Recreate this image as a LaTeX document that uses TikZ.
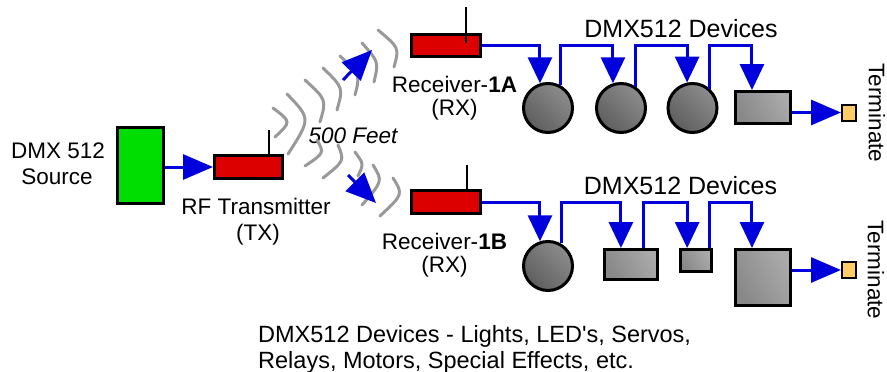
\documentclass[tikz,border=0pt]{standalone}
\usepackage{fontspec}
\setmainfont{Liberation Sans}
\usetikzlibrary{arrows.meta,calc}
\definecolor{dmxgreen}{HTML}{00DD00}
\definecolor{dmxred}{HTML}{DD0000}
\definecolor{dmxblue}{HTML}{0000DD}
\definecolor{wavegray}{HTML}{999999}
\definecolor{termfill}{HTML}{FFCC66}
\definecolor{circdark}{HTML}{5E5E5E}
\definecolor{circlight}{HTML}{8C8C8C}
\definecolor{boxdark}{HTML}{888888}
\definecolor{boxlight}{HTML}{AAAAAA}
\begin{document}
\begin{tikzpicture}[x=1pt,y=-1pt,
  box/.style={draw=black, line width=3pt, rectangle, inner sep=0pt},
  greenbox/.style={box, fill=dmxgreen},
  redbox/.style={box, fill=dmxred},
  devcirc/.style={draw=black, line width=3pt, circle, inner sep=0pt, minimum size=49pt,
    top color=circlight, bottom color=circdark, shading angle=-45},
  devbox/.style={box, top color=boxlight, bottom color=boxdark, shading angle=-60},
  termbox/.style={draw=black, line width=2pt, rectangle, inner sep=0pt, fill=termfill,
    minimum width=14pt, minimum height=16pt},
  antenna/.style={draw=black, line width=2.5pt},
  bus/.style={draw=dmxblue, line width=3pt, -{Triangle[length=26pt,width=24pt]}},
  bigarrow/.style={draw=dmxblue, line width=3pt, -{Triangle[length=30pt,width=25pt]}},
  wave/.style={draw=wavegray, line width=3pt, line cap=round},
  lbl/.style={font=\fontsize{22.5}{27}\selectfont, inner sep=0pt, anchor=base},
  head/.style={font=\fontsize{25}{30}\selectfont, inner sep=0pt, anchor=base},
  note/.style={font=\fontsize{23.5}{27}\selectfont, inner sep=0pt, anchor=base west}
]
\useasboundingbox (0,0) rectangle (887,372);

% --- source and transmitter
\node[greenbox, minimum width=46pt, minimum height=76pt] (src) at (140.5,165.5) {};
\node[redbox, minimum width=68pt, minimum height=23pt] (tx) at (248.5,167) {};
\coordinate (txant) at (269,130);
\draw[antenna] (txant) -- (txant |- tx.north);
\draw[bigarrow] (src.east |- tx.west) -- (tx.west);

\node[lbl] (srcA) at (58,158) {DMX 512};
\node[lbl] (srcB) at (57,184) {Source};
\node[lbl] (txA) at (256,214) {RF Transmitter};
\node[lbl] (txB) at (258,240) {(TX)};
\node[lbl, font=\fontsize{22.5}{27}\selectfont\itshape] (dist) at (353,143) {500 Feet};

% --- radio waves
\draw[wave] (273,108) .. controls (291.3,121.8) .. (275,137);
\draw[wave] (287,94) .. controls (310.8,118.7) .. (288,154);
\draw[wave] (305,80) .. controls (326.5,99.7) .. (320,122);
\draw[wave] (323,68) .. controls (343.3,87.7) .. (337,110);
\draw[wave] (340,56) .. controls (360.2,74.8) .. (355,95);
\draw[wave] (362,43) .. controls (378.7,61.8) .. (374,82);
\draw[wave] (378,30) .. controls (399.3,47.8) .. (394,67);
\draw[wave] (317,140) .. controls (324.3,153) .. (305,166);
\draw[wave] (338,145) .. controls (344.5,160.8) .. (323,178);
\draw[wave] (355,152) .. controls (363.8,164) .. (358,176);
\draw[wave] (373,165) .. controls (382.8,181) .. (362,205);
\draw[wave] (393,178) .. controls (403.2,194.3) .. (380,216);

\coordinate (wa1s) at (343,80);
\coordinate (wa1e) at (372,50);
\coordinate (wa2s) at (348,175);
\coordinate (wa2e) at (376,203);
\draw[bigarrow, -{Triangle[length=30pt,width=26pt]}] (wa1s) -- (wa1e);
\draw[bigarrow, -{Triangle[length=30pt,width=26pt]}] (wa2s) -- (wa2e);

% --- receiver 1A row
\node[redbox, minimum width=69pt, minimum height=22pt] (rx1a) at (446,45) {};
\coordinate (ant1top) at (466,7);
\coordinate (ant1bot) at (466,43);
\draw[antenna] (ant1top) -- (ant1bot);
\node[lbl] (rx1aA) at (454.5,92) {Receiver-\textbf{1A}};
\node[lbl] (rx1aB) at (454.5,115) {(RX)};
\node[head] (devA) at (681,37) {DMX512 Devices};

\coordinate (bus1) at (0,45);
\node[devcirc] (c1) at (548,108) {};
\node[devcirc] (c2) at (621,108) {};
\node[devcirc] (c3) at (692.5,108) {};
\node[devbox, minimum width=55pt, minimum height=32pt] (r1) at (763,107.5) {};
\node[termbox] (t1) at (849,112.5) {};
\coordinate (r1in) at ($(r1.north west)!0.31!(r1.north east)$);

\draw[bus] (rx1a.east) -| (c1.108);
\draw[bus] (c1.62) -- (c1.62 |- bus1) -| (c2.108);
\draw[bus] (c2.55) -- (c2.55 |- bus1) -| (c3.102);
\draw[bus] (c3.48) -- (c3.48 |- bus1) -| (r1in);
\draw[bigarrow] (r1.east |- t1.west) -- (t1.west);
\node[lbl, rotate=-90, anchor=center] (termA) at (877,113) {Terminate};

% --- receiver 1B row
\node[redbox, minimum width=69pt, minimum height=23pt] (rx1b) at (446,202) {};
\coordinate (ant2top) at (467,165);
\draw[antenna] (ant2top) -- (ant2top |- rx1b.north);
\node[lbl] (rx1bA) at (444.5,249) {Receiver-\textbf{1B}};
\node[lbl] (rx1bB) at (444.5,272) {(RX)};
\node[head] (devB) at (680.5,194) {DMX512 Devices};

\coordinate (bus2) at (0,202);
\node[devcirc] (d1) at (548,266) {};
\node[devbox, minimum width=53pt, minimum height=30pt] (d2) at (631,264.5) {};
\node[devbox, minimum width=31pt, minimum height=22pt] (d3) at (696,260.5) {};
\node[devbox, minimum width=55pt, minimum height=56pt] (d4) at (763,277.5) {};
\node[termbox] (t2) at (849,270) {};
\coordinate (d2in) at ($(d2.north west)!0.32!(d2.north east)$);
\coordinate (d2out) at ($(d2.north west)!0.73!(d2.north east)$);
\coordinate (d3in) at ($(d3.north west)!0.24!(d3.north east)$);
\coordinate (d3out) at ($(d3.north west)!0.91!(d3.north east)$);
\coordinate (d4in) at ($(d4.north west)!0.31!(d4.north east)$);

\draw[bus] (rx1b.east) -| (d1.108);
\draw[bus] (d1.60) -- (d1.60 |- bus2) -| (d2in);
\draw[bus] (d2out) -- (d2out |- bus2) -| (d3in);
\draw[bus] (d3out) -- (d3out |- bus2) -| (d4in);
\draw[bigarrow] (d4.east |- t2.west) -- (t2.west);
\node[lbl, rotate=-90, anchor=center] (termB) at (876,270) {Terminate};

% --- footnote
\node[note] (noteA) at (258,342) {DMX512 Devices - Lights, LED\textquotesingle s, Servos,};
\node[note] (noteB) at (258,368) {Relays, Motors, Special Effects, etc.};
\end{tikzpicture}
\end{document}
